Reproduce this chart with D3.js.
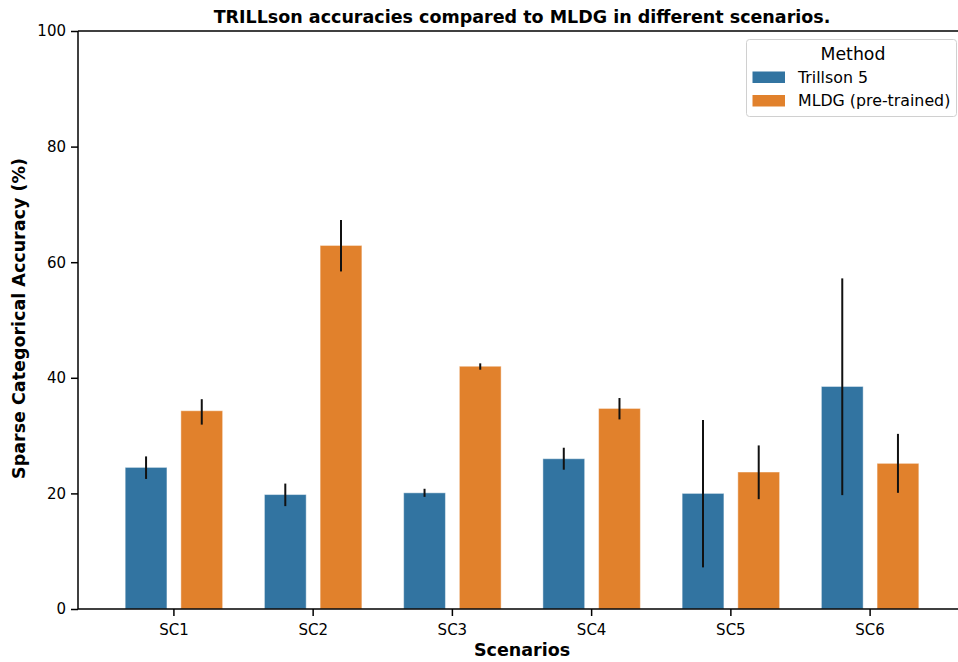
<!DOCTYPE html>
<html>
<head>
<meta charset="utf-8">
<script src="https://cdn.jsdelivr.net/npm/d3@7"></script>
<style>
  html, body { margin: 0; padding: 0; background: #fff; }
  svg { display: block; font-family: "DejaVu Sans", sans-serif; }
</style>
</head>
<body>
<svg id="chart" width="958" height="662"></svg>
<script>
// Scenario categories and the two methods compared
const scenarios = ["SC1", "SC2", "SC3", "SC4", "SC5", "SC6"];
const methods = ["Trillson 5", "MLDG (pre-trained)"];
const methodColors = ["#3274a1", "#e1812c"];

// Mean accuracy (%) per scenario
const trillsonMean = [24.5, 19.8, 20.1, 26.0, 20.0, 38.5];
const mldgMean     = [34.3, 62.9, 42.0, 34.7, 23.7, 25.2];

// Error bar extents (low, high) per scenario
const trillsonLow  = [22.5, 17.8, 19.4, 24.1, 7.2, 19.7];
const trillsonHigh = [26.4, 21.7, 20.8, 27.9, 32.7, 57.2];
const mldgLow      = [31.9, 58.4, 41.4, 32.8, 19.0, 20.1];
const mldgHigh     = [36.3, 67.3, 42.5, 36.5, 28.3, 30.3];

const yTicks = [0, 20, 40, 60, 80, 100];

const svg = d3.select("#chart");
const plotLeft = 78, plotRight = 958, plotTop = 31, plotBottom = 609;

const x = d3.scaleBand()
  .domain(scenarios)
  .range([plotLeft, plotRight])
  .paddingInner(0)
  .paddingOuter(0.16)
  .align(0.59);

const hue = d3.scaleBand()
  .domain(methods)
  .range([-0.4 * x.step(), 0.4 * x.step()]);

const y = d3.scaleLinear().domain([0, 100]).range([plotBottom, plotTop]);

const series = [
  { mean: trillsonMean, low: trillsonLow, high: trillsonHigh },
  { mean: mldgMean, low: mldgLow, high: mldgHigh }
];

const barW = 0.3 * x.step();

series.forEach((s, mi) => {
  const g = svg.append("g");
  const rows = scenarios.map((c, i) => ({ c, v: s.mean[i], lo: s.low[i], hi: s.high[i] }));
  const cx = d => x(d.c) + x.bandwidth() / 2 + hue(methods[mi]) + hue.bandwidth() / 2;
  g.selectAll("rect").data(rows).join("rect")
    .attr("x", d => cx(d) - barW / 2)
    .attr("width", barW)
    .attr("y", d => y(d.v))
    .attr("height", d => y(0) - y(d.v))
    .attr("fill", methodColors[mi])
    .attr("stroke", "rgba(255,255,255,0.45)")
    .attr("stroke-width", 1);
  g.selectAll("line").data(rows).join("line")
    .attr("x1", cx).attr("x2", cx)
    .attr("y1", d => y(d.lo)).attr("y2", d => y(d.hi))
    .attr("stroke", "#111")
    .attr("stroke-width", 2);
});

// Axes
const yAxis = svg.append("g")
  .attr("transform", `translate(${plotLeft},0)`)
  .call(d3.axisLeft(y).tickValues(yTicks).tickSize(7).tickPadding(5));
const xAxis = svg.append("g")
  .attr("transform", `translate(0,${plotBottom})`)
  .call(d3.axisBottom(x).tickSize(7).tickPadding(5));

[yAxis, xAxis].forEach(a => {
  a.select(".domain").remove();
  a.selectAll(".tick line").attr("stroke", "#000").attr("stroke-width", 1.5);
  a.selectAll(".tick text").attr("font-size", 15).attr("fill", "#000")
    .attr("font-family", "DejaVu Sans, sans-serif");
});
xAxis.selectAll(".tick text").attr("dy", "0.9em");

// Frame lines: left, bottom, top
svg.append("line").attr("x1", plotLeft).attr("x2", plotLeft).attr("y1", plotTop).attr("y2", plotBottom)
  .attr("stroke", "#000").attr("stroke-width", 1.5);
svg.append("line").attr("x1", plotLeft).attr("x2", plotRight).attr("y1", plotBottom).attr("y2", plotBottom)
  .attr("stroke", "#000").attr("stroke-width", 1.5);
svg.append("line").attr("x1", plotLeft).attr("x2", plotRight).attr("y1", plotTop).attr("y2", plotTop)
  .attr("stroke", "#000").attr("stroke-width", 1.5);

// Title and axis labels
svg.append("text")
  .attr("x", 522).attr("y", 23)
  .attr("text-anchor", "middle")
  .attr("font-weight", "bold").attr("font-size", 17.5)
  .text("TRILLson accuracies compared to MLDG in different scenarios.");

svg.append("text")
  .attr("x", 522).attr("y", 656)
  .attr("text-anchor", "middle")
  .attr("font-weight", "bold").attr("font-size", 17.5)
  .text("Scenarios");

svg.append("text")
  .attr("transform", `translate(25,${(159 + 478) / 2}) rotate(-90)`)
  .attr("text-anchor", "middle")
  .attr("font-weight", "bold").attr("font-size", 17.5)
  .text("Sparse Categorical Accuracy (%)");

// Legend
const lg = svg.append("g").attr("transform", "translate(746,39)");
lg.append("rect")
  .attr("x", 0.5).attr("y", 0.5).attr("width", 210).attr("height", 77).attr("rx", 3)
  .attr("fill", "rgba(255,255,255,0.8)").attr("stroke", "#d0d0d0").attr("stroke-width", 1);
lg.append("text")
  .attr("x", 107).attr("y", 20.5)
  .attr("text-anchor", "middle").attr("font-size", 17.3)
  .text("Method");
methods.forEach((m, i) => {
  lg.append("rect")
    .attr("x", 6.5).attr("y", 32.5 + i * 23.5).attr("width", 32.5).attr("height", 11.5)
    .attr("fill", methodColors[i]);
  lg.append("text")
    .attr("x", 52).attr("y", 43.7 + i * 23.5)
    .attr("font-size", 15.8)
    .text(m);
});
</script>
</body>
</html>
